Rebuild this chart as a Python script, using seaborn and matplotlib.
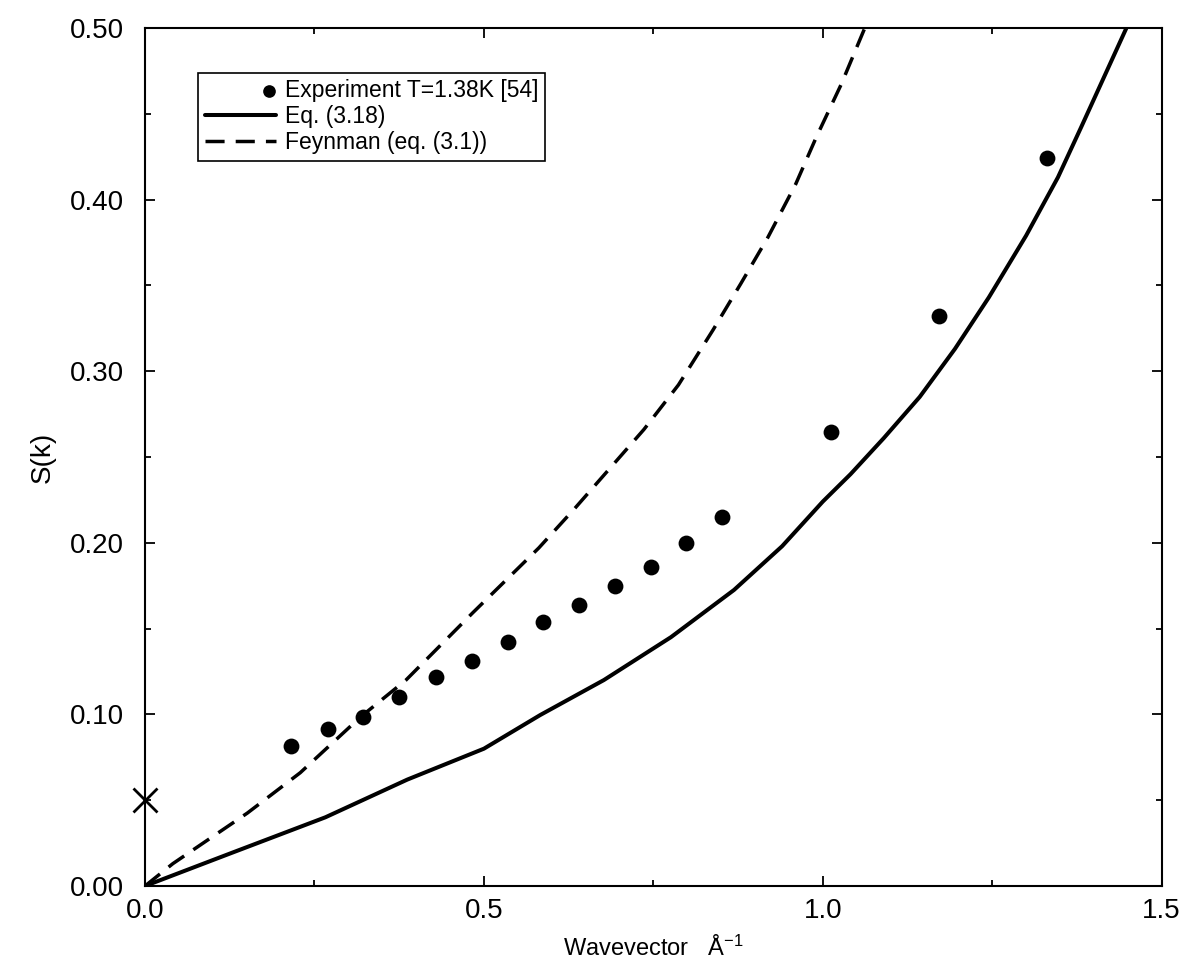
import pandas as pd
import matplotlib
matplotlib.use("Agg")
import matplotlib.pyplot as plt
import seaborn as sns
from matplotlib.ticker import MultipleLocator, FormatStrFormatter
from matplotlib.legend_handler import HandlerPathCollection

# experiment points
exp_k = [0.216, 0.270, 0.322, 0.375, 0.430, 0.482, 0.535, 0.587, 0.640,
         0.693, 0.747, 0.798, 0.852, 1.012, 1.171, 1.331]
exp_s = [0.0816, 0.0915, 0.0986, 0.110, 0.122, 0.131, 0.142, 0.154, 0.164,
         0.175, 0.186, 0.200, 0.215, 0.2646, 0.332, 0.424]

# Eq. (3.18)
eq_k = [0.0, 0.126, 0.266, 0.387, 0.5, 0.583, 0.677, 0.776, 0.869, 0.94,
        1.0, 1.041, 1.09, 1.143, 1.195, 1.245, 1.30, 1.347, 1.381, 1.448]
eq_s = [0.0, 0.019, 0.040, 0.062, 0.080, 0.0996, 0.120, 0.145, 0.1725, 0.198,
        0.224, 0.240, 0.261, 0.285, 0.313, 0.343, 0.379, 0.413, 0.442, 0.500]

# Feynman (eq. (3.1))
fey_k = [0.0, 0.041, 0.151, 0.229, 0.318, 0.385, 0.483, 0.581, 0.634, 0.685,
         0.736, 0.787, 0.838, 0.879, 0.919, 0.960, 0.990, 1.027, 1.062]
fey_s = [0.0, 0.013, 0.0425, 0.066, 0.0985, 0.120, 0.159, 0.197, 0.220, 0.243,
         0.266, 0.292, 0.324, 0.351, 0.378, 0.409, 0.436, 0.467, 0.500]

# the cross on the y axis
cross_k = [0.0]
cross_s = [0.05]


class RightMarker(HandlerPathCollection):
    # put the dot at the right end of the handle, next to the text
    def get_xdata(self, legend, xdescent, ydescent, width, height, fontsize):
        x = -xdescent + width - 0.3 * fontsize
        return [x], [x]


sns.set_theme(style="ticks")
plt.rcParams['font.family'] = ['Liberation Sans', 'DejaVu Sans']
plt.rcParams['mathtext.fontset'] = 'custom'
plt.rcParams['mathtext.rm'] = 'Liberation Sans'
plt.rcParams['mathtext.it'] = 'Liberation Sans:italic'
plt.rcParams['text.color'] = 'black'
plt.rcParams['axes.labelcolor'] = 'black'

fig = plt.figure(figsize=(11.89, 9.69), dpi=100)
ax = fig.add_axes([0.122, 0.0857, 0.855, 0.8854])

df_exp = pd.DataFrame({"k": exp_k, "S": exp_s})
df_eq = pd.DataFrame({"k": eq_k, "S": eq_s})
df_fey = pd.DataFrame({"k": fey_k, "S": fey_s})

sns.scatterplot(data=df_exp, x="k", y="S", ax=ax, color="black", s=130,
                linewidth=0, marker="o", label="Experiment T=1.38K [54]", zorder=3)
sns.lineplot(data=df_eq, x="k", y="S", ax=ax, color="black", linewidth=2.9,
             label="Eq. (3.18)", sort=False)
sns.lineplot(data=df_fey, x="k", y="S", ax=ax, color="black", linewidth=2.5,
             label="Feynman (eq. (3.1))", sort=False)
ax.lines[-1].set_dashes([5.5, 3.2])
ax.plot(cross_k, cross_s, marker="x", color="black", markersize=17,
        markeredgewidth=2, linestyle="none", clip_on=False, zorder=4)

ax.set_xlim(0, 1.5)
ax.set_ylim(0, 0.5)
ax.xaxis.set_major_locator(MultipleLocator(0.5))
ax.xaxis.set_minor_locator(MultipleLocator(0.25))
ax.yaxis.set_major_locator(MultipleLocator(0.1))
ax.yaxis.set_minor_locator(MultipleLocator(0.05))
ax.xaxis.set_major_formatter(FormatStrFormatter("%.1f"))
ax.yaxis.set_major_formatter(FormatStrFormatter("%.2f"))

ax.tick_params(which="both", direction="in", top=True, right=True,
               color="black", width=1.3)
ax.tick_params(which="major", length=7, labelsize=20, colors="black")
ax.tick_params(which="minor", length=4)
ax.tick_params(axis="y", which="major", pad=15)
ax.tick_params(axis="x", which="major", pad=9)
for sp in ax.spines.values():
    sp.set_linewidth(1.5)
    sp.set_color("black")
    sp.set_visible(True)

ax.set_xlabel("Wavevector   Å$^{-1}$", fontsize=17, labelpad=8, color="black")
ax.set_ylabel("S(k)", fontsize=20, labelpad=10, color="black")

handles, labels = ax.get_legend_handles_labels()
leg = ax.legend(handles, labels, loc="upper left", bbox_to_anchor=(0.052, 0.948),
                borderaxespad=0, fontsize=16.5, frameon=True, fancybox=False,
                framealpha=1, edgecolor="black", handlelength=3.1,
                handletextpad=0.4, labelspacing=0.12, borderpad=0.3,
                markerscale=0.8,
                handler_map={handles[0]: RightMarker()})
leg.get_frame().set_linewidth(1.2)
for t in leg.get_texts():
    t.set_color("black")

fig.savefig("out.png", dpi=100)
